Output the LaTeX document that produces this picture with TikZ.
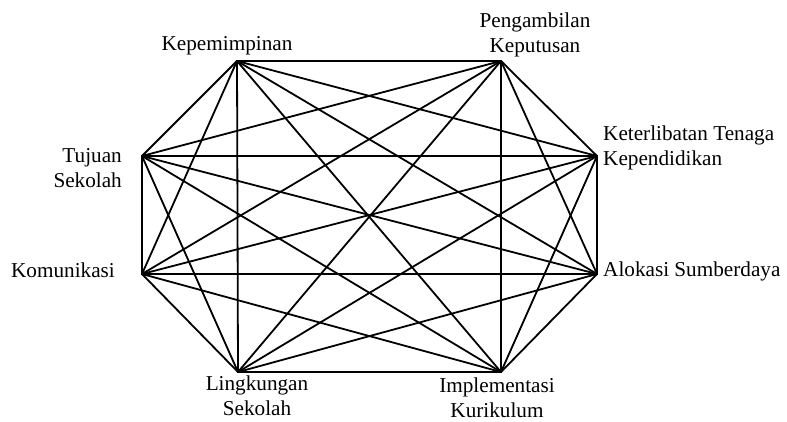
\documentclass[tikz,border=0pt]{standalone}
\usepackage{fontspec}
\setmainfont{Liberation Serif}
\begin{document}
\begin{tikzpicture}[x=1pt,y=-1pt,
  edge/.style={line width=1.8pt, line cap=round, line join=round},
  lbl/.style={inner sep=0pt, font=\fontsize{21.2}{24.5}\selectfont}]
\useasboundingbox (0,0) rectangle (787,421);
\coordinate (A) at (237,61);
\coordinate (B) at (501,61);
\coordinate (C) at (597,156);
\coordinate (D) at (597,274);
\coordinate (E) at (501,372);
\coordinate (F) at (238,372);
\coordinate (G) at (142,274);
\coordinate (H) at (142,156);
\foreach \p/\q in {A/B,A/C,A/D,A/E,A/F,A/G,A/H,B/C,B/D,B/E,B/F,B/G,B/H,C/D,C/E,C/F,C/G,C/H,D/E,D/F,D/G,D/H,E/F,E/G,E/H,F/G,F/H,G/H}
  \draw[edge] (\p) -- (\q);
\node[lbl, anchor=base] (kep) at (227,50) {Kepemimpinan};
\node[lbl, anchor=base, align=center] (peng) at (535,52) {Pengambilan\\Keputusan};
\node[lbl, anchor=base west, align=left] (ket) at (603,165) {Keterlibatan Tenaga\\Kependidikan};
\node[lbl, anchor=base west] (alo) at (603,276) {Alokasi Sumberdaya};
\node[lbl, anchor=base east, align=right] (tuj) at (122,187) {Tujuan\\Sekolah};
\node[lbl, anchor=base east] (kom) at (115,277) {Komunikasi};
\node[lbl, anchor=base, align=center] (ling) at (257,415) {Lingkungan\\Sekolah};
\node[lbl, anchor=base, align=center] (imp) at (497,417) {Implementasi\\Kurikulum};
\end{tikzpicture}
\end{document}
